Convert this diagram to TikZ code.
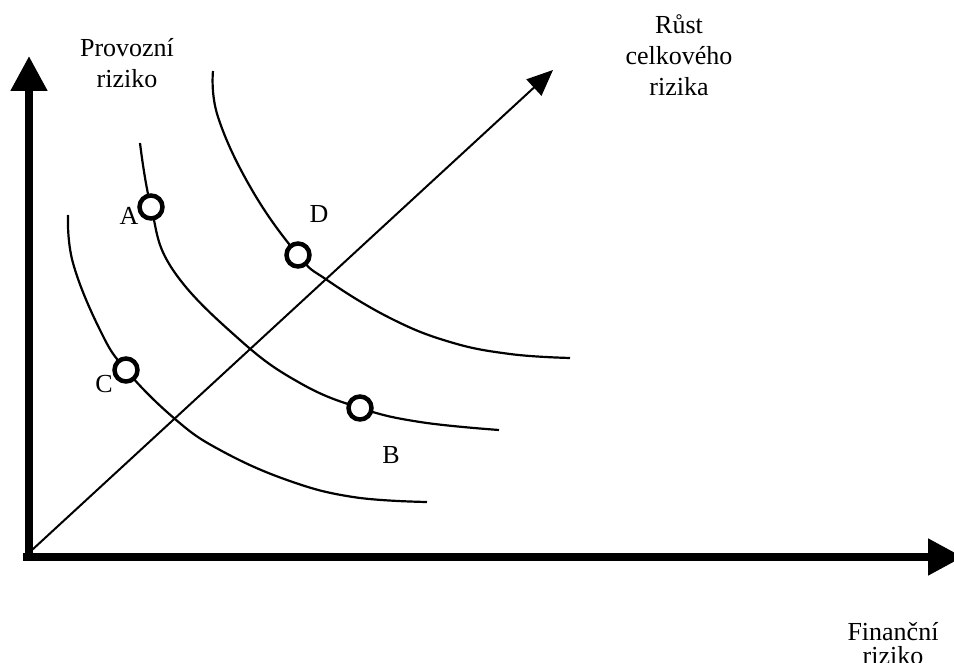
\documentclass[tikz,border=0pt]{standalone}
\usepackage{fontspec}
\setmainfont{Liberation Serif}
\usetikzlibrary{positioning, arrows.meta}
\tikzset{
    axis/.style={line width=8pt, -{Triangle[length=35pt,width=35pt]}}, % thick axes
    curve/.style={line width=2.2pt}, % iso-risk curves
    point/.style={circle, draw, line width=4.5pt, fill=white, minimum size=23pt, inner sep=0pt},
    lbl/.style={font=\fontsize{26}{31}\selectfont, inner sep=0pt, anchor=base, align=center},
}

\begin{document}
\begin{tikzpicture}[x=1pt, y=-1pt]
  \useasboundingbox (0,0) rectangle (954,663);

  % axes
  \coordinate (o) at (29,561);
  \coordinate (ytop) at (29,56);
  \coordinate (xl) at (23,557);
  \coordinate (xr) at (963,557);
  \draw[axis] (o) -- (ytop);
  \draw[axis] (xl) -- (xr);

  % growth of total risk
  \coordinate (d0) at (32,550);
  \coordinate (d1) at (553,70);
  \draw[line width=2pt, -{Triangle[length=26pt,width=22pt]}] (d0) -- (d1);

  % curves
  \draw[curve] plot[smooth, tension=0.7] coordinates
    {(68,215) (73,263) (100,330) (126,370) (175,419) (220,450) (287,480) (353,497) (427,502)};
  \draw[curve] plot[smooth, tension=0.7] coordinates
    {(140,143) (151,207) (173,270) (240,340) (300,383) (360,408) (420,422) (499,430)};
  \draw[curve] plot[smooth, tension=0.7] coordinates
    {(213,71) (218,117) (252,190) (298,255) (327,280) (390,318) (450,342) (510,354) (570,358)};

  % points
  \node[point] (A) at (151,207) {};
  \node[point] (B) at (360,408) {};
  \node[point] (C) at (126,370) {};
  \node[point] (D) at (298,255) {};

  \node[lbl] (la) at (129,225) {A};
  \node[lbl] (lb) at (391,463) {B};
  \node[lbl] (lc) at (104,392) {C};
  \node[lbl] (ld) at (319,223) {D};

  % axis labels (anchored at last baseline)
  \node[lbl] (ly) at (127,88) {Provozní\\riziko};
  \node[lbl] (lx) at (893,664) {Finanční\\[-7pt]riziko};
  \node[lbl] (ld1) at (679,96) {Růst\\celkového\\rizika};
\end{tikzpicture}
\end{document}
